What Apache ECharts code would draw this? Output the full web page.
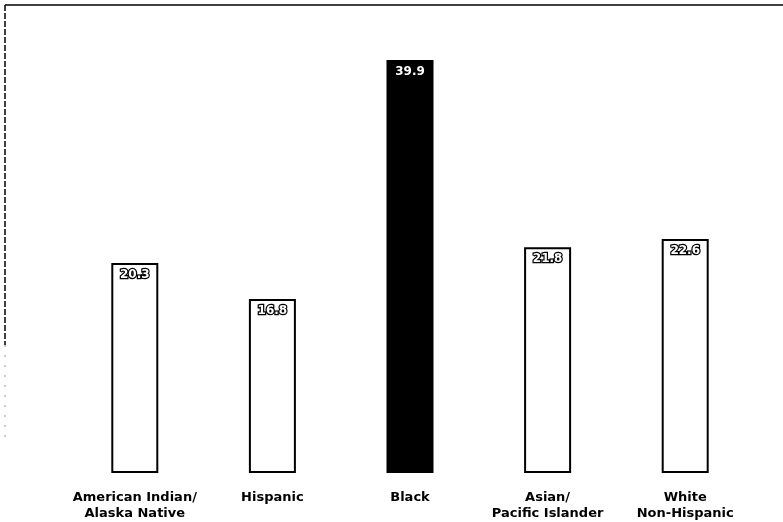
<!DOCTYPE html>
<html>
<head>
<meta charset="utf-8">
<script src="https://cdn.jsdelivr.net/npm/echarts@6/dist/echarts.min.js"></script>
<style>html,body{margin:0;padding:0;background:#fff}#c{width:783px;height:522px}</style>
</head>
<body>
<div id="c"></div>
<script>
var categories = ['American Indian/\nAlaska Native', 'Hispanic', 'Black', 'Asian/\nPacific Islander', 'White\nNon-Hispanic'];
var values = [20.3, 16.8, 39.9, 21.8, 22.6];
var fills = ['#ffffff', '#ffffff', '#000000', '#ffffff', '#ffffff'];

var chart = echarts.init(document.getElementById('c'));
chart.setOption({
  animation: false,
  backgroundColor: '#ffffff',
  grid: { left: 66, right: 29, top: 59, bottom: 47, containLabel: false },
  xAxis: {
    type: 'category',
    data: categories,
    axisLine: { show: false },
    axisTick: { show: false },
    axisLabel: {
      color: '#000', fontFamily: 'DejaVu Sans, sans-serif', fontWeight: 'bold',
      fontSize: 13, lineHeight: 16, margin: 17, interval: 0
    }
  },
  yAxis: {
    type: 'value', min: 0, max: 40,
    show: false, splitLine: { show: false }
  },
  series: [{
    type: 'bar',
    barWidth: 47,
    data: values.map(function (v, i) {
      return { value: v, itemStyle: { color: fills[i] } };
    }),
    itemStyle: { borderColor: '#000', borderWidth: 2 },
    label: {
      show: true, position: 'insideTop', distance: 6,
      color: '#fff', fontFamily: 'DejaVu Sans, sans-serif', fontWeight: 'bold', fontSize: 12,
      textBorderColor: '#000', textBorderWidth: 2.5,
      formatter: function (p) { return p.value.toFixed(1); }
    }
  }],
  graphic: [
    { type: 'line', shape: { x1: 5, y1: 5, x2: 783, y2: 5 }, style: { stroke: '#000', lineWidth: 1.5 } },
    { type: 'line', shape: { x1: 5, y1: 5, x2: 5, y2: 345 }, style: { stroke: '#000', lineWidth: 1.5, lineDash: [6, 2] } },
    { type: 'line', shape: { x1: 5, y1: 345, x2: 5, y2: 440 }, style: { stroke: '#999', lineWidth: 1, lineDash: [2, 8] } }
  ]
});
</script>
</body>
</html>
